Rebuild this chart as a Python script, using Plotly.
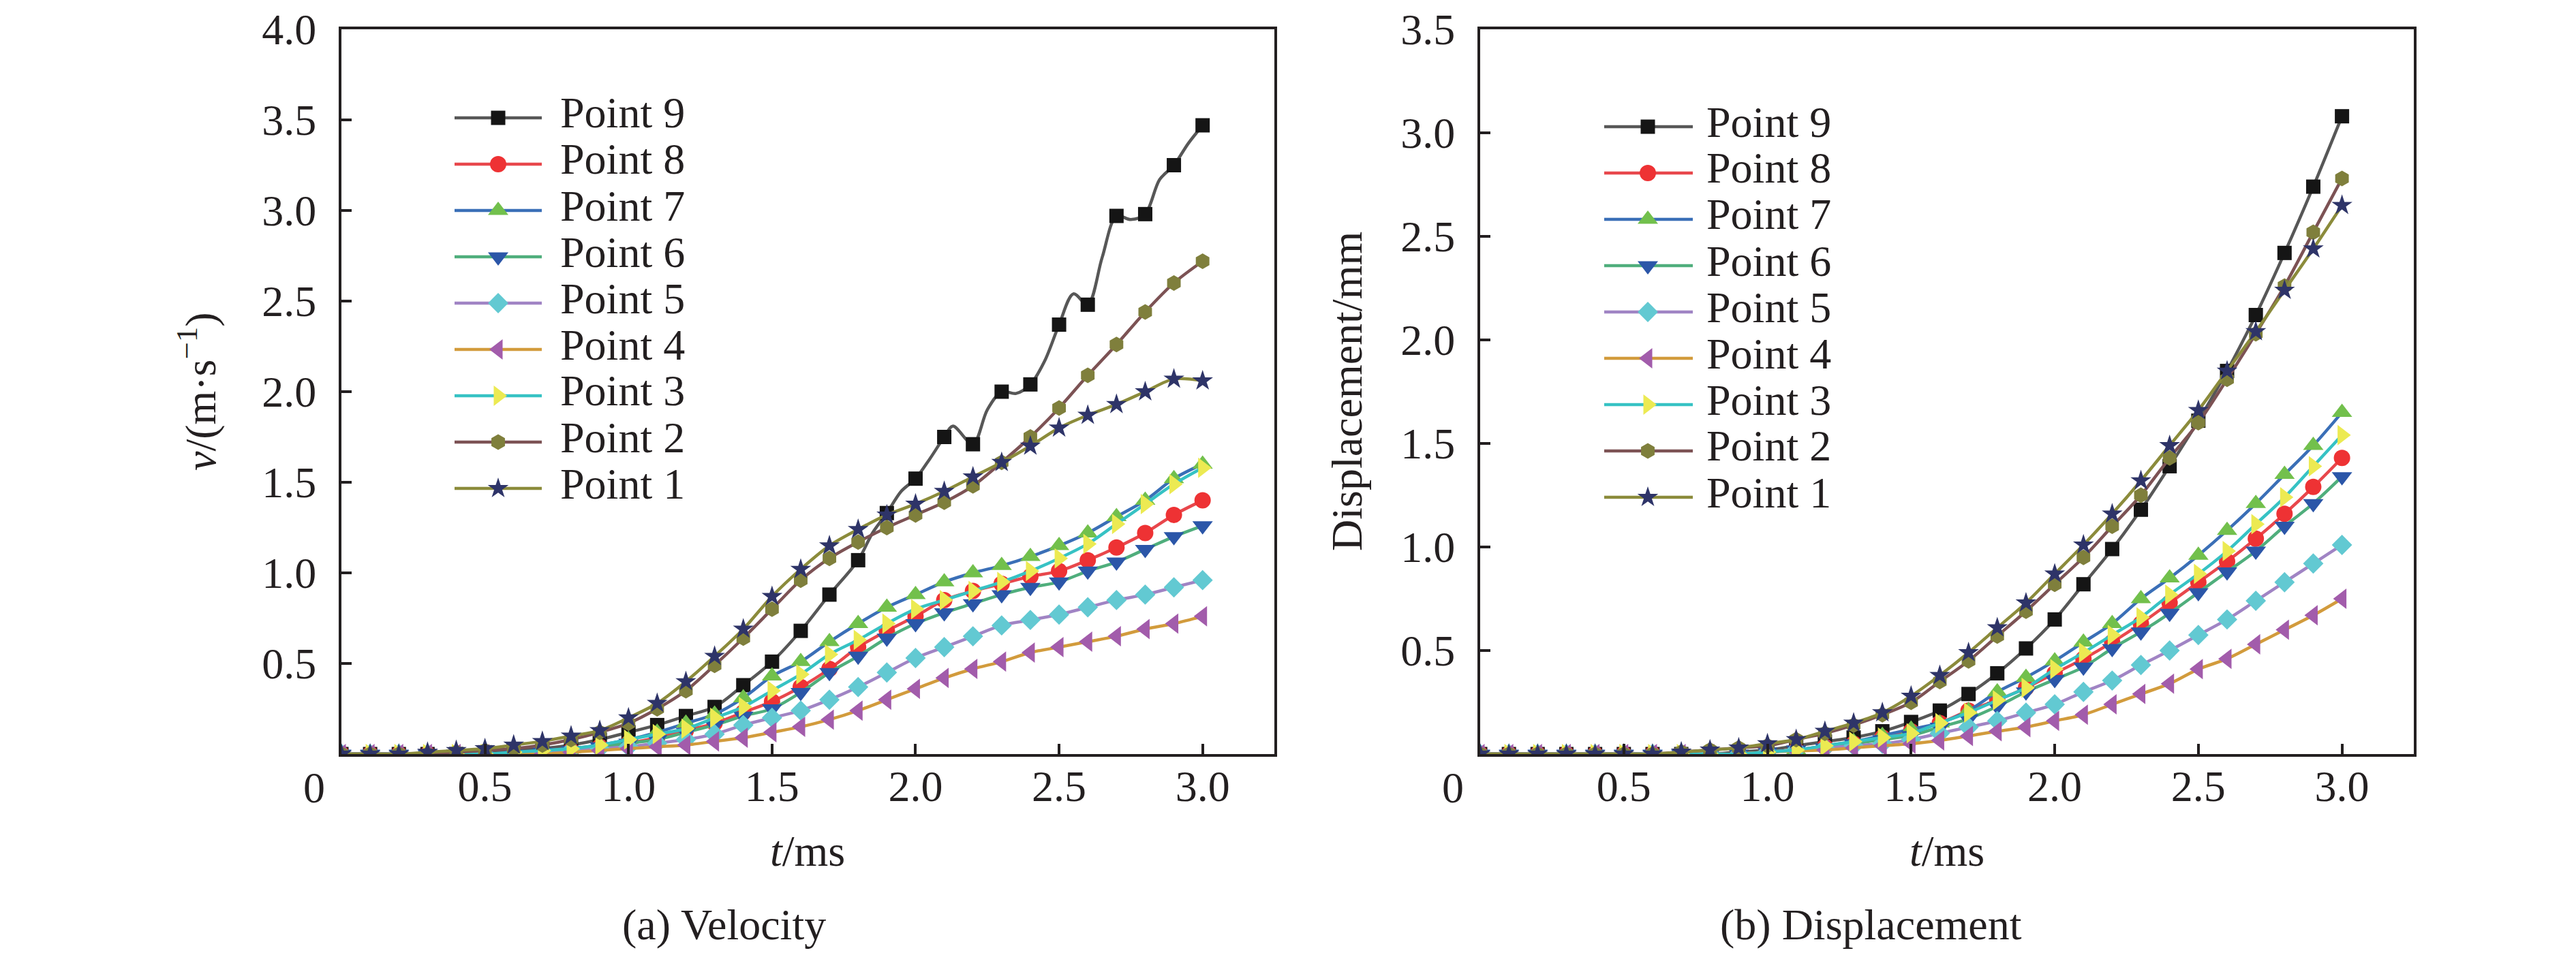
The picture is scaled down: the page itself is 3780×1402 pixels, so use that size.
import plotly.graph_objects as go

# ---------------- data ----------------
t = [round(0.1 * i, 1) for i in range(31)]

names = ["Point 9", "Point 8", "Point 7", "Point 6", "Point 5",
         "Point 4", "Point 3", "Point 2", "Point 1"]
line_colors = ["#575757", "#e8474c", "#3a6fb7", "#4fae7c", "#a084c4",
               "#d29b3c", "#36c2c4", "#7c5254", "#8b8b3b"]
marker_colors = ["#151515", "#ee3234", "#72c04c", "#2b56a8", "#62c9d2",
                 "#a25cab", "#ecea52", "#7f7f3c", "#2e3468"]
symbols = ["square", "circle", "triangle-up", "triangle-down", "diamond",
           "triangle-left", "triangle-right", "hexagon", "star"]
marker_sizes = [21, 24, 26, 26, 23, 26, 26, 23, 23]

# velocity v (m/s), panel (a)
v9 = [0, 0, 0, 0, 0, 0.01, 0.02, 0.03, 0.05, 0.08, 0.12, 0.16, 0.21, 0.26, 0.38, 0.51,
      0.68, 0.88, 1.07, 1.33, 1.52, 1.75, 1.71, 2.00, 2.04, 2.37, 2.48, 2.97, 2.98, 3.25, 3.47]
v8 = [0, 0, 0, 0, 0, 0, 0, 0.01, 0.02, 0.04, 0.06, 0.09, 0.13, 0.17, 0.23, 0.29,
      0.37, 0.47, 0.59, 0.68, 0.76, 0.85, 0.90, 0.94, 0.98, 1.01, 1.07, 1.14, 1.22, 1.32, 1.40]
v7 = [0, 0, 0, 0, 0, 0, 0.01, 0.02, 0.03, 0.05, 0.08, 0.12, 0.17, 0.22, 0.31, 0.43,
      0.51, 0.62, 0.72, 0.81, 0.88, 0.95, 1.00, 1.04, 1.09, 1.15, 1.22, 1.31, 1.40, 1.52, 1.60]
v6 = [0, 0, 0, 0, 0, 0, 0, 0.01, 0.02, 0.04, 0.06, 0.08, 0.12, 0.16, 0.21, 0.25,
      0.34, 0.45, 0.54, 0.64, 0.72, 0.78, 0.83, 0.88, 0.92, 0.95, 1.01, 1.06, 1.13, 1.20, 1.26]
v5 = [0, 0, 0, 0, 0, 0, 0, 0.01, 0.02, 0.03, 0.04, 0.06, 0.08, 0.11, 0.16, 0.20,
      0.24, 0.30, 0.37, 0.45, 0.53, 0.59, 0.65, 0.71, 0.74, 0.77, 0.81, 0.85, 0.88, 0.92, 0.96]
v4 = [0, 0, 0, 0, 0, 0, 0, 0, 0.01, 0.02, 0.03, 0.04, 0.05, 0.07, 0.09, 0.12,
      0.15, 0.19, 0.24, 0.30, 0.36, 0.42, 0.47, 0.51, 0.56, 0.59, 0.62, 0.65, 0.69, 0.72, 0.76]
v3 = [0, 0, 0, 0, 0, 0, 0.01, 0.02, 0.03, 0.05, 0.08, 0.11, 0.14, 0.20, 0.26, 0.35,
      0.44, 0.55, 0.63, 0.72, 0.80, 0.85, 0.90, 0.95, 1.01, 1.08, 1.16, 1.27, 1.38, 1.49, 1.58]
v2 = [0, 0, 0, 0, 0.01, 0.02, 0.03, 0.05, 0.08, 0.12, 0.17, 0.25, 0.35, 0.49, 0.64, 0.80,
      0.96, 1.08, 1.17, 1.25, 1.32, 1.39, 1.48, 1.61, 1.75, 1.91, 2.09, 2.26, 2.44, 2.60, 2.72]
v1 = [0, 0, 0, 0.01, 0.02, 0.03, 0.05, 0.07, 0.10, 0.13, 0.20, 0.28, 0.40, 0.54, 0.69, 0.87,
      1.02, 1.15, 1.24, 1.32, 1.38, 1.45, 1.53, 1.61, 1.70, 1.80, 1.87, 1.93, 2.00, 2.07, 2.06]

# finer trace of the oscillating Point 9 velocity curve
t9_fine = [0, 0.1, 0.2, 0.3, 0.4, 0.5, 0.6, 0.7, 0.8, 0.9, 1.0, 1.1, 1.2, 1.3, 1.4, 1.5,
           1.6, 1.7, 1.8, 1.85, 1.9, 1.95, 2.0, 2.05, 2.1, 2.13, 2.2, 2.25, 2.3, 2.35, 2.4,
           2.45, 2.5, 2.55, 2.6, 2.65, 2.7, 2.75, 2.8, 2.85, 2.9, 2.95, 3.0]
v9_fine = [0, 0, 0, 0, 0, 0.01, 0.02, 0.03, 0.05, 0.08, 0.12, 0.16, 0.21, 0.26, 0.38, 0.51,
           0.68, 0.88, 1.07, 1.22, 1.33, 1.45, 1.52, 1.63, 1.75, 1.81, 1.71, 1.90, 2.00, 1.99, 2.04,
           2.17, 2.37, 2.54, 2.48, 2.74, 2.97, 2.95, 2.98, 3.17, 3.25, 3.37, 3.47]

# displacement (mm), panel (b)
d9 = [0, 0, 0, 0, 0, 0, 0, 0, 0, 0.01, 0.02, 0.04, 0.06, 0.08, 0.11, 0.155,
      0.21, 0.29, 0.39, 0.51, 0.65, 0.82, 0.99, 1.18, 1.39, 1.61, 1.85, 2.12, 2.42, 2.74, 3.08]
d8 = [0, 0, 0, 0, 0, 0, 0, 0, 0, 0, 0.01, 0.02, 0.035, 0.05, 0.08, 0.11,
      0.15, 0.21, 0.26, 0.32, 0.39, 0.46, 0.54, 0.63, 0.73, 0.83, 0.93, 1.04, 1.16, 1.29, 1.43]
d7 = [0, 0, 0, 0, 0, 0, 0, 0, 0, 0, 0.01, 0.02, 0.04, 0.06, 0.09, 0.12,
      0.15, 0.21, 0.30, 0.37, 0.45, 0.54, 0.63, 0.75, 0.85, 0.96, 1.08, 1.21, 1.35, 1.49, 1.65]
d6 = [0, 0, 0, 0, 0, 0, 0, 0, 0, 0, 0.01, 0.02, 0.03, 0.05, 0.07, 0.09,
      0.13, 0.17, 0.23, 0.30, 0.36, 0.42, 0.51, 0.59, 0.68, 0.78, 0.88, 0.98, 1.10, 1.21, 1.34]
d5 = [0, 0, 0, 0, 0, 0, 0, 0, 0, 0, 0.01, 0.02, 0.03, 0.04, 0.05, 0.07,
      0.10, 0.13, 0.16, 0.20, 0.24, 0.30, 0.355, 0.43, 0.50, 0.575, 0.65, 0.74, 0.83, 0.92, 1.01]
d4 = [0, 0, 0, 0, 0, 0, 0, 0, 0, 0, 0.01, 0.015, 0.02, 0.03, 0.04, 0.05,
      0.066, 0.087, 0.11, 0.13, 0.16, 0.19, 0.24, 0.29, 0.34, 0.41, 0.46, 0.53, 0.60, 0.67, 0.75]
d3 = [0, 0, 0, 0, 0, 0, 0, 0, 0, 0, 0.01, 0.02, 0.04, 0.06, 0.08, 0.10,
      0.15, 0.20, 0.26, 0.32, 0.41, 0.49, 0.575, 0.66, 0.77, 0.87, 0.98, 1.11, 1.24, 1.39, 1.54]
d2 = [0, 0, 0, 0, 0, 0, 0, 0.01, 0.02, 0.03, 0.04, 0.07, 0.10, 0.14, 0.19, 0.25,
      0.35, 0.45, 0.57, 0.69, 0.82, 0.95, 1.10, 1.25, 1.43, 1.60, 1.81, 2.03, 2.26, 2.52, 2.78]
d1 = [0, 0, 0, 0, 0, 0, 0, 0.01, 0.02, 0.03, 0.05, 0.07, 0.11, 0.15, 0.20, 0.28,
      0.38, 0.49, 0.61, 0.73, 0.87, 1.01, 1.16, 1.32, 1.49, 1.66, 1.85, 2.04, 2.24, 2.44, 2.65]

vel_series = [v9, v8, v7, v6, v5, v4, v3, v2, v1]
disp_series = [d9, d8, d7, d6, d5, d4, d3, d2, d1]

x_ticks = [0.5, 1.0, 1.5, 2.0, 2.5, 3.0]
v_ticks = [0.5, 1.0, 1.5, 2.0, 2.5, 3.0, 3.5, 4.0]
d_ticks = [0.5, 1.0, 1.5, 2.0, 2.5, 3.0, 3.5]

# ---------------- style ----------------
W, H = 3780, 1402
FONT = "Liberation Serif"
TXT = "#231f20"
FS = 64
LW = 4.5
TXT_LIFT = 14   # compensates glyph offset of annotation boxes


def px_x(p):
    return p / W


def px_y(p):
    return 1 - p / H


fig = go.Figure()

# panel (a)
for i, name in enumerate(names):
    mk = dict(symbol=symbols[i], size=marker_sizes[i], color=marker_colors[i])
    ln = dict(color=line_colors[i], width=LW, shape="spline", smoothing=0.9)
    if name == "Point 9":
        fig.add_trace(go.Scatter(x=t9_fine, y=v9_fine, mode="lines", xaxis="x", yaxis="y",
                                 line=ln, showlegend=False, hoverinfo="skip"))
        fig.add_trace(go.Scatter(x=t, y=vel_series[i], mode="markers", xaxis="x", yaxis="y",
                                 marker=mk, name=name, showlegend=False))
    else:
        fig.add_trace(go.Scatter(x=t, y=vel_series[i], mode="lines+markers", xaxis="x", yaxis="y",
                                 line=ln, marker=mk, name=name, showlegend=False))

# panel (b)
for i, name in enumerate(names):
    fig.add_trace(go.Scatter(x=t, y=disp_series[i], mode="lines+markers", xaxis="x2", yaxis="y2",
                             line=dict(color=line_colors[i], width=LW, shape="spline", smoothing=0.9),
                             marker=dict(symbol=symbols[i], size=marker_sizes[i], color=marker_colors[i]),
                             name=name, showlegend=False))

# custom legends drawn on a pixel-space overlay axis
legend_specs = [
    dict(x0=659, x1=787, xm=723, xt=812, y0=165),
    dict(x0=2346, x1=2476, xm=2410, xt=2494, y0=178),
]
ROW = 68
annotations = []
for spec in legend_specs:
    for i, name in enumerate(names):
        yy = spec["y0"] + i * ROW
        fig.add_trace(go.Scatter(x=[spec["x0"], spec["x1"]], y=[yy, yy], mode="lines",
                                 xaxis="x3", yaxis="y3",
                                 line=dict(color=line_colors[i], width=LW),
                                 showlegend=False, hoverinfo="skip"))
        fig.add_trace(go.Scatter(x=[spec["xm"]], y=[yy], mode="markers",
                                 xaxis="x3", yaxis="y3",
                                 marker=dict(symbol=symbols[i], size=marker_sizes[i],
                                             color=marker_colors[i]),
                                 showlegend=False, hoverinfo="skip"))
        annotations.append(dict(x=px_x(spec["xt"]), y=px_y(yy), xref="paper", yref="paper",
                                text=name, showarrow=False, xanchor="left", yanchor="middle",
                                yshift=TXT_LIFT * 0.5,
                                font=dict(family=FONT, size=FS, color=TXT)))


def ann(x, y, text, angle=0, xs=0, ys=0):
    annotations.append(dict(x=px_x(x), y=px_y(y), xref="paper", yref="paper", text=text,
                            showarrow=False, xanchor="center", yanchor="middle", textangle=angle,
                            xshift=xs, yshift=ys,
                            font=dict(family=FONT, size=FS, color=TXT)))


ann(305, 567, "<i>v</i>/(m·s<sup>−1</sup>)", -90, xs=-24)
ann(1974, 567, "Displacement/mm", -90, xs=-6)
ann(1177, 1255, "<i>t</i>/ms", ys=TXT_LIFT)
ann(2849, 1255, "<i>t</i>/ms", ys=TXT_LIFT)
ann(1054, 1363, "(a) Velocity", ys=TXT_LIFT)
ann(2737, 1363, "(b) Displacement", ys=TXT_LIFT)
for xr in ["x", "x2"]:
    annotations.append(dict(x=0, y=px_y(1162), xref=xr, yref="paper", text="0", showarrow=False,
                            xanchor="center", yanchor="middle", xshift=-40, yshift=TXT_LIFT,
                            font=dict(family=FONT, size=FS, color=TXT)))

axis_common = dict(showline=True, linewidth=4, linecolor="#231f20", mirror=True,
                   ticks="inside", ticklen=15, tickwidth=4, tickcolor="#231f20",
                   showgrid=False, zeroline=False, automargin=False,
                   tickfont=dict(family=FONT, size=FS, color=TXT))

fig.update_layout(
    width=W, height=H, autosize=False,
    margin=dict(l=0, r=0, t=0, b=0, pad=0),
    paper_bgcolor="white", plot_bgcolor="rgba(0,0,0,0)",
    showlegend=False,
    xaxis=dict(domain=[px_x(493), px_x(1862)], range=[0, 3.25], anchor="y",
               tickvals=x_ticks, ticktext=[f"{v:.1f}" for v in x_ticks],
               ticklabelstandoff=-12, **axis_common),
    yaxis=dict(domain=[px_y(1099), px_y(35)], range=[0, 4.0], anchor="x",
               tickvals=v_ticks, ticktext=[f"{v:.1f}" for v in v_ticks],
               ticklabelstandoff=20, **axis_common),
    xaxis2=dict(domain=[px_x(2164), px_x(3534)], range=[0, 3.25], anchor="y2",
                tickvals=x_ticks, ticktext=[f"{v:.1f}" for v in x_ticks],
                ticklabelstandoff=-12, **axis_common),
    yaxis2=dict(domain=[px_y(1099), px_y(35)], range=[0, 3.5], anchor="x2",
                tickvals=d_ticks, ticktext=[f"{v:.1f}" for v in d_ticks],
                ticklabelstandoff=20, **axis_common),
    xaxis3=dict(domain=[0, 1], range=[0, W], anchor="y3", visible=False,
                fixedrange=True, automargin=False),
    yaxis3=dict(domain=[0, 1], range=[H, 0], anchor="x3", visible=False,
                fixedrange=True, automargin=False),
    annotations=annotations,
)

fig.write_html("out.html")
